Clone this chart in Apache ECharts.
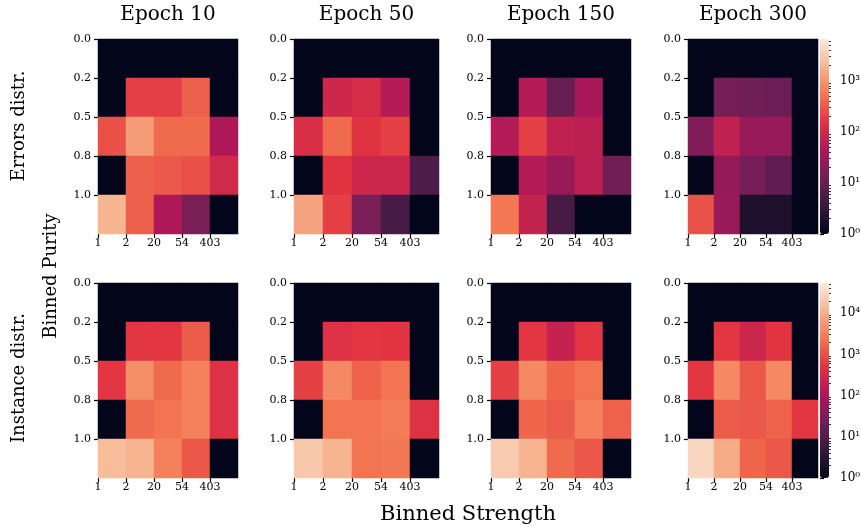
<!DOCTYPE html>
<html>
<head>
<meta charset="utf-8">
<script src="https://cdn.jsdelivr.net/npm/echarts@6/dist/echarts.min.js"></script>
<style>
  html, body { margin: 0; padding: 0; background: #fff; }
  #chart { width: 861px; height: 527px; }
</style>
</head>
<body>
<div id="chart"></div>
<script>
// --- tick labels / titles ---
const strengthBins = ['1', '2', '20', '54', '403'];
const purityBins = ['0.0', '0.2', '0.5', '0.8', '1.0'];
const epochTitles = ['Epoch 10', 'Epoch 50', 'Epoch 150', 'Epoch 300'];
const rowTitles = ['Errors distr.', 'Instance distr.'];

// --- counts, rows = purity bins (top->bottom), cols = strength bins ---
const errorsEpoch10 = [
    [0, 0, 0, 0, 0],
    [0, 190, 190, 360, 0],
    [260, 1150, 430, 430, 45],
    [0, 360, 310, 260, 100],
    [1950, 360, 45, 15, 0]
];
const errorsEpoch50 = [
    [0, 0, 0, 0, 0],
    [0, 95, 115, 52, 0],
    [125, 430, 150, 195, 0],
    [0, 150, 90, 90, 6],
    [1350, 195, 15, 5, 0]
];
const errorsEpoch150 = [
    [0, 0, 0, 0, 0],
    [0, 52, 10, 40, 0],
    [52, 195, 68, 63, 0],
    [0, 52, 28, 63, 12],
    [560, 74, 5, 0, 0]
];
const errorsEpoch300 = [
    [0, 0, 0, 0, 0],
    [0, 14, 12, 11, 0],
    [17, 68, 28, 28, 0],
    [0, 26, 14, 9, 0],
    [280, 28, 2, 2, 0]
];
const instanceEpoch10 = [
    [0, 0, 0, 0, 0],
    [0, 550, 550, 1300, 0],
    [550, 4400, 1800, 3200, 450],
    [0, 1800, 2300, 3200, 450],
    [14500, 11700, 3200, 1200, 0]
];
const instanceEpoch50 = [
    [0, 0, 0, 0, 0],
    [0, 450, 550, 500, 0],
    [700, 3900, 1500, 2300, 0],
    [0, 2300, 2300, 2800, 450],
    [20000, 11700, 2300, 2600, 0]
];
const instanceEpoch150 = [
    [0, 0, 0, 0, 0],
    [0, 550, 210, 550, 0],
    [700, 3900, 1650, 2300, 0],
    [0, 1650, 1300, 3200, 1500],
    [22500, 11700, 1800, 1200, 0]
];
const instanceEpoch300 = [
    [0, 0, 0, 0, 0],
    [0, 550, 260, 500, 0],
    [550, 3900, 1200, 3900, 0],
    [0, 1300, 1200, 1500, 550],
    [31000, 9400, 1650, 1200, 0]
];
const errorsColorMax = 6600;
const instanceColorMax = 54000;

// seaborn "rocket"
const rocket = ['#03051a', '#35193e', '#701f57', '#ad1759', '#e13342', '#f37651', '#f6b48f', '#faebdd'];
const sup = ['\u2070', '\u00b9', '\u00b2', '\u00b3', '\u2074', '\u2075'];
const serif = 'DejaVu Serif';

const panels = [
    [errorsEpoch10, errorsEpoch50, errorsEpoch150, errorsEpoch300],
    [instanceEpoch10, instanceEpoch50, instanceEpoch150, instanceEpoch300]
];
const colorMax = [errorsColorMax, instanceColorMax];

// layout (px) - widths are multiples of 5 so cell edges land on whole pixels
const panelLeft = [98, 294, 491, 688];
const panelWidth = [140, 145, 140, 130];
const rowTop = [39, 283];
const rowHeight = [195, 195];
const barLeft = 820, barWidth = 9;

const grids = [], xAxes = [], yAxes = [], series = [], visualMaps = [];
const tickStyle = { color: '#000', width: 1.2 };

panels.forEach((row, r) => {
    row.forEach((counts, c) => {
        const g = grids.length;
        grids.push({ left: panelLeft[c], top: rowTop[r], width: panelWidth[c], height: rowHeight[r], outerBoundsMode: 'none' });

        // hidden category axes for the cells
        xAxes.push({ type: 'category', gridIndex: g, data: strengthBins, show: false, position: 'bottom' });
        yAxes.push({ type: 'category', gridIndex: g, data: purityBins, show: false, inverse: true, position: 'left' });

        // visible axes, ticks on the bin edges
        xAxes.push({
            type: 'category', gridIndex: g, data: strengthBins.concat(['']), boundaryGap: false, position: 'bottom',
            axisLine: { show: false }, splitLine: { show: false },
            axisTick: { show: true, length: 4, interval: (i) => i < strengthBins.length, lineStyle: tickStyle },
            axisLabel: { interval: 0, margin: 4, fontFamily: serif, fontSize: 11, color: '#000' }
        });
        yAxes.push({
            type: 'category', gridIndex: g, data: purityBins.concat(['']), boundaryGap: false, inverse: true, position: 'left',
            axisLine: { show: false }, splitLine: { show: false },
            axisTick: { show: true, length: 4, interval: (i) => i < purityBins.length, lineStyle: tickStyle },
            axisLabel: { interval: 0, margin: 7, fontFamily: serif, fontSize: 11, color: '#000' }
        });

        const data = [];
        counts.forEach((vals, yi) => vals.forEach((v, xi) => {
            data.push([xi, yi, Math.log10(Math.max(v, 1))]);
        }));
        series.push({
            type: 'heatmap', xAxisIndex: xAxes.length - 2, yAxisIndex: yAxes.length - 2,
            data: data, emphasis: { disabled: true }, itemStyle: { borderWidth: 0 }
        });
    });

    // colorbar
    const logMax = Math.log10(colorMax[r]);
    visualMaps.push({
        type: 'continuous', min: 0, max: logMax, orient: 'vertical',
        seriesIndex: [r * 4, r * 4 + 1, r * 4 + 2, r * 4 + 3],
        inRange: { color: rocket },
        left: barLeft, top: rowTop[r], itemWidth: barWidth, itemHeight: rowHeight[r],
        padding: 0, showLabel: false, text: null, calculable: false, hoverLink: false
    });

    const g = grids.length;
    grids.push({ left: barLeft, top: rowTop[r], width: barWidth, height: rowHeight[r], outerBoundsMode: 'none' });
    xAxes.push({ type: 'value', gridIndex: g, show: false });
    const majors = [], minors = [];
    for (let k = 0; k <= Math.floor(logMax); k++) {
        majors.push(k);
        for (let m = 2; m <= 9; m++) {
            const lv = k + Math.log10(m);
            if (lv <= logMax) minors.push(lv);
        }
    }
    yAxes.push({
        type: 'value', gridIndex: g, min: 0, max: logMax, position: 'right',
        axisLine: { show: false }, splitLine: { show: false },
        axisTick: { show: true, length: 4, customValues: majors, lineStyle: tickStyle },
        axisLabel: { customValues: majors, margin: 11, fontFamily: serif, fontSize: 12, color: '#000', formatter: (v) => '10' + sup[Math.round(v)] }
    });
    yAxes.push({
        type: 'value', gridIndex: g, min: 0, max: logMax, position: 'right',
        axisLine: { show: false }, splitLine: { show: false },
        axisTick: { show: true, length: 2, customValues: minors, lineStyle: { color: '#000', width: 0.8 } },
        axisLabel: { show: false }
    });
});

// text
const graphics = [];
const textStyle = (t, size) => ({ text: t, fontFamily: serif, fontSize: size, fill: '#000', align: 'center', verticalAlign: 'middle' });
epochTitles.forEach((t, c) => {
    graphics.push({ type: 'text', x: panelLeft[c] + panelWidth[c] / 2, y: 15, style: textStyle(t, 20) });
});
const rowLabelY = [126, 378];
rowTitles.forEach((t, r) => {
    graphics.push({ type: 'text', x: 19, y: rowLabelY[r], rotation: Math.PI / 2, style: textStyle(t, 18) });
});
graphics.push({ type: 'text', x: 51, y: 276, rotation: Math.PI / 2, style: textStyle('Binned Purity', 18) });
graphics.push({ type: 'text', x: 468, y: 515, style: textStyle('Binned Strength', 21) });

const chart = echarts.init(document.getElementById('chart'), null, { renderer: 'canvas' });
chart.setOption({
    animation: false,
    backgroundColor: '#fff',
    grid: grids,
    xAxis: xAxes,
    yAxis: yAxes,
    visualMap: visualMaps,
    series: series,
    graphic: graphics
});
</script>
</body>
</html>
